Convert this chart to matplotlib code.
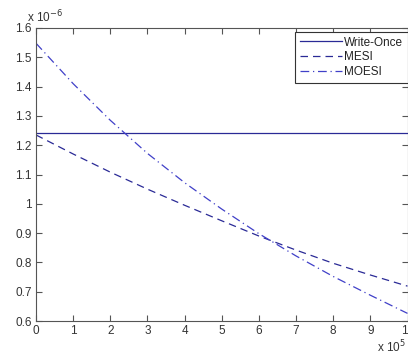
import matplotlib
matplotlib.use('Agg')
import matplotlib.pyplot as plt

# values (x in units of 1e5, y in units of 1e-6)
x_vals = [0, 1, 2, 3, 4, 5, 6, 7, 8, 9, 10]
write_once = [1.24] * 11
mesi = [1.235, 1.17, 1.108, 1.05, 0.995, 0.942, 0.89, 0.842, 0.797, 0.757, 0.719]
moesi = [1.548, 1.41, 1.285, 1.172, 1.072, 0.982, 0.898, 0.822, 0.752, 0.688, 0.626]
labels = ['Write-Once', 'MESI', 'MOESI']
y_ticks = [0.6, 0.7, 0.8, 0.9, 1.0, 1.1, 1.2, 1.3, 1.4, 1.5, 1.6]

plt.rcParams['font.family'] = ['Liberation Sans', 'DejaVu Sans']
line_color = '#2a2a96'
axis_color = '#555555'

fig = plt.figure(figsize=(4.08, 3.56), dpi=100)
ax = fig.add_axes([36 / 408, 1 - 321 / 356, 371.5 / 408, 293 / 356])

ax.plot(x_vals, write_once, color=line_color, lw=0.9, ls='-', label=labels[0])
ax.plot(x_vals, mesi, color=line_color, lw=0.9, ls=(0, (6, 4)), label=labels[1])
ax.plot(x_vals, moesi, color='#4040c8', lw=0.9, ls=(0, (7, 3, 1, 3)), label=labels[2])

ax.set_xlim(0, 10)
ax.set_ylim(0.6, 1.6)
ax.set_xticks(x_vals)
ax.set_xticklabels([str(v) for v in x_vals])
ax.set_yticks(y_ticks)
ax.set_yticklabels(['%g' % v for v in y_ticks])

ax.tick_params(direction='in', length=4, width=0.8, colors=axis_color,
               labelcolor='#333333', labelsize=8.5, top=True, right=True, pad=3)
for s in ax.spines.values():
    s.set_color(axis_color)
    s.set_linewidth(0.8)

# MATLAB-style exponent labels
fig.text(27 / 408, 1 - 22 / 356, r'x 10$^{-6}$', fontsize=8.5, color='#333333')
fig.text(377 / 408, 1 - 352 / 356, r'x 10$^{5}$', fontsize=8.5, color='#333333')

leg = ax.legend(loc='upper right', bbox_to_anchor=(1.0, 0.985), fontsize=8.5,
                fancybox=False, framealpha=1, borderpad=0.35, handlelength=3.6,
                handletextpad=0.2, labelspacing=0.25, borderaxespad=0)
leg.get_frame().set_edgecolor('#333333')
leg.get_frame().set_linewidth(0.8)
for t in leg.get_texts():
    t.set_color('#222222')

fig.savefig('out.png', dpi=100)
